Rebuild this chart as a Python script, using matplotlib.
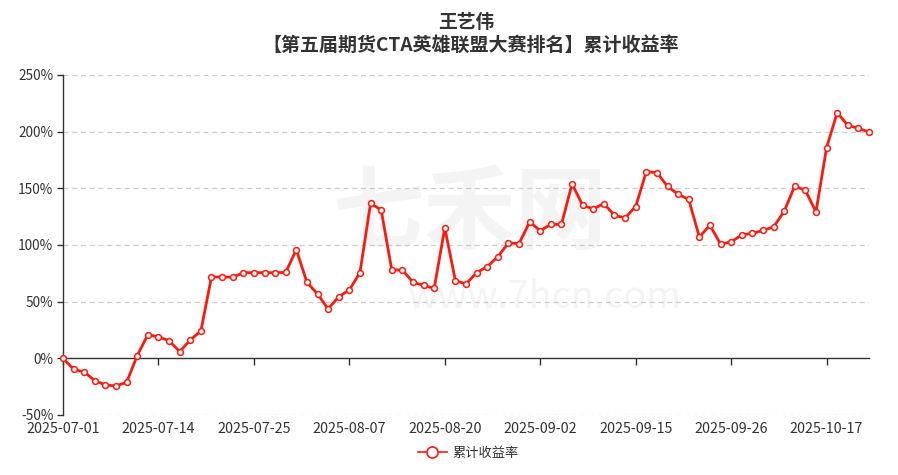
import matplotlib
matplotlib.use("Agg")
import matplotlib.pyplot as plt
from matplotlib.ticker import FixedLocator, FuncFormatter
from matplotlib.lines import Line2D

plt.rcParams['font.family'] = ['Noto Sans CJK SC', 'DejaVu Sans']

title_name = "王艺伟"
title_sub = "【第五届期货CTA英雄联盟大赛排名】累计收益率"
series_name = "累计收益率"

dates = [
    "2025-07-01", "2025-07-02", "2025-07-03", "2025-07-04", "2025-07-07", "2025-07-08",
    "2025-07-09", "2025-07-10", "2025-07-11", "2025-07-14", "2025-07-15", "2025-07-16",
    "2025-07-17", "2025-07-18", "2025-07-21", "2025-07-22", "2025-07-23", "2025-07-24",
    "2025-07-25", "2025-07-28", "2025-07-29", "2025-07-30", "2025-07-31", "2025-08-01",
    "2025-08-04", "2025-08-05", "2025-08-06", "2025-08-07", "2025-08-08", "2025-08-11",
    "2025-08-12", "2025-08-13", "2025-08-14", "2025-08-15", "2025-08-18", "2025-08-19",
    "2025-08-20", "2025-08-21", "2025-08-22", "2025-08-25", "2025-08-26", "2025-08-27",
    "2025-08-28", "2025-08-29", "2025-09-01", "2025-09-02", "2025-09-03", "2025-09-04",
    "2025-09-05", "2025-09-08", "2025-09-09", "2025-09-10", "2025-09-11", "2025-09-12",
    "2025-09-15", "2025-09-16", "2025-09-17", "2025-09-18", "2025-09-19", "2025-09-22",
    "2025-09-23", "2025-09-24", "2025-09-25", "2025-09-26", "2025-09-29", "2025-09-30",
    "2025-10-09", "2025-10-10", "2025-10-13", "2025-10-14", "2025-10-15", "2025-10-16",
    "2025-10-17", "2025-10-20", "2025-10-21", "2025-10-22", "2025-10-23",
]

returns = [
    0.0, -9.7, -12.0, -19.7, -23.5, -24.4, -21.1, 2.4, 20.9, 18.9,
    15.6, 5.9, 16.2, 24.1, 71.8, 71.8, 71.5, 75.6, 75.6, 75.6,
    75.6, 75.8, 95.9, 67.1, 56.8, 43.6, 54.4, 60.3, 75.6, 136.8,
    130.9, 78.0, 78.0, 67.1, 64.4, 61.8, 115.0, 68.6, 65.6, 75.6,
    80.9, 89.7, 101.8, 101.2, 120.3, 112.6, 118.2, 118.2, 153.9, 135.0,
    131.8, 136.5, 126.2, 123.9, 133.9, 164.7, 163.9, 151.8, 144.7, 140.3,
    107.1, 117.4, 100.9, 102.7, 108.9, 110.3, 112.9, 115.9, 129.7, 152.1,
    148.2, 129.2, 185.9, 216.8, 205.6, 203.0, 199.7,
]

y_ticks = [-50, 0, 50, 100, 150, 200, 250]

W, H = 898, 475
fig = plt.figure(figsize=(W / 100, H / 100), dpi=100)

# watermark (behind everything)
wm = fig.add_axes([0, 0, 1, 1], zorder=-5)
wm.axis("off")
wm.set_xlim(0, W)
wm.set_ylim(H, 0)
wm.text(470, 215, "七禾网", fontsize=66, color="#f4f4f4", ha="center", va="center",
        fontweight="bold")
wm.text(545, 298, "www.7hcn.com", fontsize=27, color="#f4f4f4", ha="center", va="center")

ax = fig.add_axes([63 / W, 1 - 415 / H, (869 - 63) / W, (415 - 75) / H], zorder=1)
ax.patch.set_alpha(0)

x = list(range(len(dates)))
ax.plot(x, returns, color="#ff1a0f", lw=2, marker="o", markersize=4.2,
        markerfacecolor="white", markeredgecolor="#ff1a0f", markeredgewidth=1.1, zorder=5,
        clip_on=False)

ax.set_xlim(0, len(dates) - 1)
ax.set_ylim(-50, 250)

for v in y_ticks:
    if v != 0:
        ax.axhline(v, color="#cccccc", lw=0.9, ls=(0, (4, 3)), zorder=1)

ax.yaxis.set_major_locator(FixedLocator(y_ticks))
ax.yaxis.set_major_formatter(FuncFormatter(lambda v, p: f"{int(v)}%"))

tick_idx = list(range(0, len(dates), 9))
ax.set_xticks(tick_idx)
ax.set_xticklabels([])
for i in tick_idx:
    ax.text(i, -56.5, dates[i], ha="center", va="top", fontsize=10.3, color="#333333",
            transform=ax.transData, clip_on=False)

for s in ["top", "right"]:
    ax.spines[s].set_visible(False)
ax.spines["bottom"].set_position(("data", 0))
ax.spines["bottom"].set_color("#333333")
ax.spines["left"].set_color("#333333")
ax.spines["bottom"].set_linewidth(1)
ax.spines["left"].set_linewidth(1)
ax.tick_params(axis="x", direction="out", length=5, color="#333333", width=1)
ax.tick_params(axis="y", direction="out", length=4, color="#333333", width=1,
               labelsize=9.8, labelcolor="#333333", pad=3)

fig.text(466 / W, 1 - 22 / H, title_name, ha="center", va="center", fontsize=13.5,
         fontweight="bold", color="#333333")
fig.text(471 / W, 1 - 45 / H, title_sub, ha="center", va="center", fontsize=13.7,
         fontweight="bold", color="#333333")

handle = Line2D([], [], color="#ff1a0f", lw=1.2, marker="o", markersize=8,
                markerfacecolor="white", markeredgecolor="#ff1a0f", markeredgewidth=1.2)
fig.legend([handle], [series_name], loc="center", bbox_to_anchor=(468 / W, 1 - 453 / H),
           frameon=False, fontsize=9.5, handlelength=2.2, handletextpad=0.4,
           labelcolor="#333333")

fig.savefig("out.png", dpi=100)
